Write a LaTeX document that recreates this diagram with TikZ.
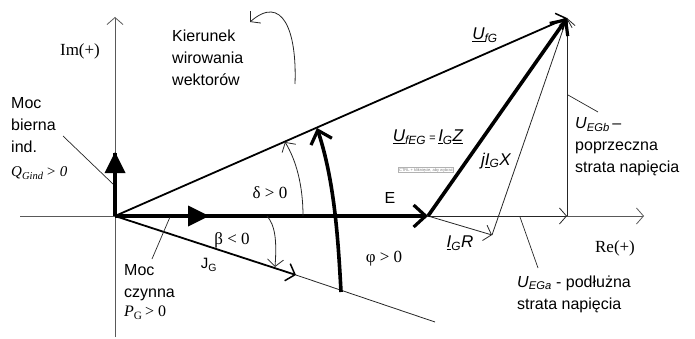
\documentclass[tikz,border=0pt]{standalone}
\usepackage{fontspec}
\setmainfont{Liberation Sans}
\newfontfamily\serifrm{Liberation Serif}
\usetikzlibrary{arrows.meta}
\begin{document}
\begin{tikzpicture}[x=1pt,y=-1pt,
  axisln/.style={line width=0.8pt, draw=black!65},
  thinln/.style={line width=0.8pt, draw=black!85},
  medln/.style={line width=1.8pt, draw=black},
  heavyln/.style={line width=3.6pt, draw=black},
  barbS/.style={-{Straight Barb[length=7pt,width=16pt,line width=0.8pt]}},
  barbM/.style={-{Straight Barb[length=8pt,width=18pt,line width=1.5pt]}},
  barbH/.style={-{Straight Barb[length=12pt,width=22pt,line width=3.2pt]}},
  lbl/.style={inner sep=0pt, font=\fontsize{16}{22}\selectfont, align=left},
  serlbl/.style={inner sep=0pt, font=\serifrm\fontsize{17}{20}\selectfont},
  ptr/.style={line width=0.7pt, draw=black!85}
]
\useasboundingbox (0,0) rectangle (695,339);

% key points
\coordinate (O) at (115,216);
\coordinate (E) at (428,216);
\coordinate (T) at (567,18);
\coordinate (F) at (567,216);
\coordinate (R) at (492,235);
\coordinate (ImTop) at (115,17);
\coordinate (ImBot) at (115,337);
\coordinate (ReL) at (20,216);
\coordinate (ReR) at (644,216);
\coordinate (Qtip) at (115,153);
\coordinate (IGa) at (296,275);
\coordinate (IGe) at (435,322);

% axes
\draw[axisln, barbS] (ImBot) -- (ImTop);
\draw[axisln, barbS] (ReL) -- (ReR);

% other long lines
\draw[thinln] (IGa) -- (IGe);
\draw[medln, barbM] (O) -- (IGa);
\draw[thinln, barbS] (E) -- (R);
\draw[thinln, barbS] (R) -- (T);
\draw[thinln, barbS] (E) -- (F);
\draw[thinln, barbS] (F) -- (T);
\draw[medln, barbM] (O) -- (T);

% heavy vectors
\draw[heavyln] (O) -- (Qtip);
\fill (115,152) -- (104.5,173) -- (125.5,173) -- cycle;
\draw[heavyln, barbH] (O) -- (E);
\fill (209,216) -- (188,205.5) -- (188,226.5) -- cycle;
\draw[heavyln, barbH] (E) -- (T);

% angle arcs
\coordinate (phiA) at (341,292);
\coordinate (phiB) at (317,128);
\draw[heavyln, barbH] (phiA) .. controls (338,235) and (334,180) .. (phiB);
\coordinate (delA) at (303,216);
\coordinate (delB) at (285,142);
\draw[thinln, barbS] (delA) .. controls (303,185) and (296,160) .. (delB);
\coordinate (betA) at (267,216);
\coordinate (betB) at (275,267);
\draw[thinln, barbS] (betA) .. controls (275,225) and (277,240) .. (betB);
\coordinate (rotA) at (295,84);
\coordinate (rotB) at (250,22);
\draw[thinln, barbS] (rotA) .. controls (297,30) and (282,-6) .. (rotB);

% pointer lines
\coordinate (pQa) at (63,136);
\coordinate (pQb) at (113,184);
\draw[ptr] (pQa) -- (pQb);
\coordinate (pPa) at (152,259);
\coordinate (pPb) at (170,217);
\draw[ptr] (pPa) -- (pPb);
\coordinate (pAa) at (520,217);
\coordinate (pAb) at (538,268);
\draw[ptr] (pAa) -- (pAb);
\coordinate (pBa) at (568,95);
\coordinate (pBb) at (598,112);
\draw[ptr] (pBa) -- (pBb);

% labels
\node[serlbl] (im) at (80,51) {Im(+)};
\node[serlbl] (re) at (615,248) {Re(+)};
\node[lbl, anchor=west] (kier) at (172,57.5) {Kierunek\\wirowania\\wektorów};
\node[lbl, anchor=west] (mocb) at (11,125) {Moc\\bierna\\ind.};
\node[inner sep=0pt, anchor=west, font=\serifrm\itshape\fontsize{15}{17}\selectfont] (qg) at (11,173) {Q\textsubscript{Gind}\,> 0};
\node[lbl, anchor=west] (mocc) at (124,282.5) {Moc\\czynna};
\node[inner sep=0pt, anchor=west, font=\serifrm\fontsize{16}{18}\selectfont] (pg) at (124,313) {\textit{P}\textsubscript{G}\,> 0};
\node[serlbl] (delta) at (270,193) {δ > 0};
\node[serlbl] (beta) at (232,240) {β < 0};
\node[serlbl] (phi) at (384,259) {φ > 0};
\node[inner sep=0pt, font=\fontsize{15}{17}\selectfont] (jg) at (209,265) {J\textsubscript{G}};
\node[inner sep=0pt, font=\fontsize{16}{18}\selectfont] (e) at (390,198) {E};
\node[inner sep=0pt, font=\itshape\fontsize{17}{19}\selectfont] (ufg) at (485,35) {\underline{U}\textsubscript{fG}};
\node[inner sep=0pt, font=\itshape\fontsize{17}{19}\selectfont] (ufeg) at (428,137) {\underline{U}\textsubscript{fEG}\,{\fontsize{11}{12}\selectfont =}\,\underline{I}\textsubscript{G}\underline{Z}};
\node[inner sep=0pt, font=\itshape\fontsize{17}{19}\selectfont] (jx) at (496,161) {j\underline{I}\textsubscript{G}X};
\node[inner sep=0pt, font=\itshape\fontsize{17}{19}\selectfont] (igr) at (460,243) {\underline{I}\textsubscript{G}R};
\node[lbl, anchor=west] (uegb) at (575,147) {\textit{U}\textsubscript{\textit{EGb}}\,–\\poprzeczna\\strata napięcia};
\node[lbl, anchor=west] (uega) at (517,294) {\textit{U}\textsubscript{\textit{EGa}} - podłużna\\strata napięcia};
\node[draw=black!30, fill=white, inner sep=0.7pt, font=\fontsize{4}{5}\selectfont, text=black!50] (ctrl) at (426,170) {CTRL + kliknięcie, aby wybrać};
\end{tikzpicture}
\end{document}
